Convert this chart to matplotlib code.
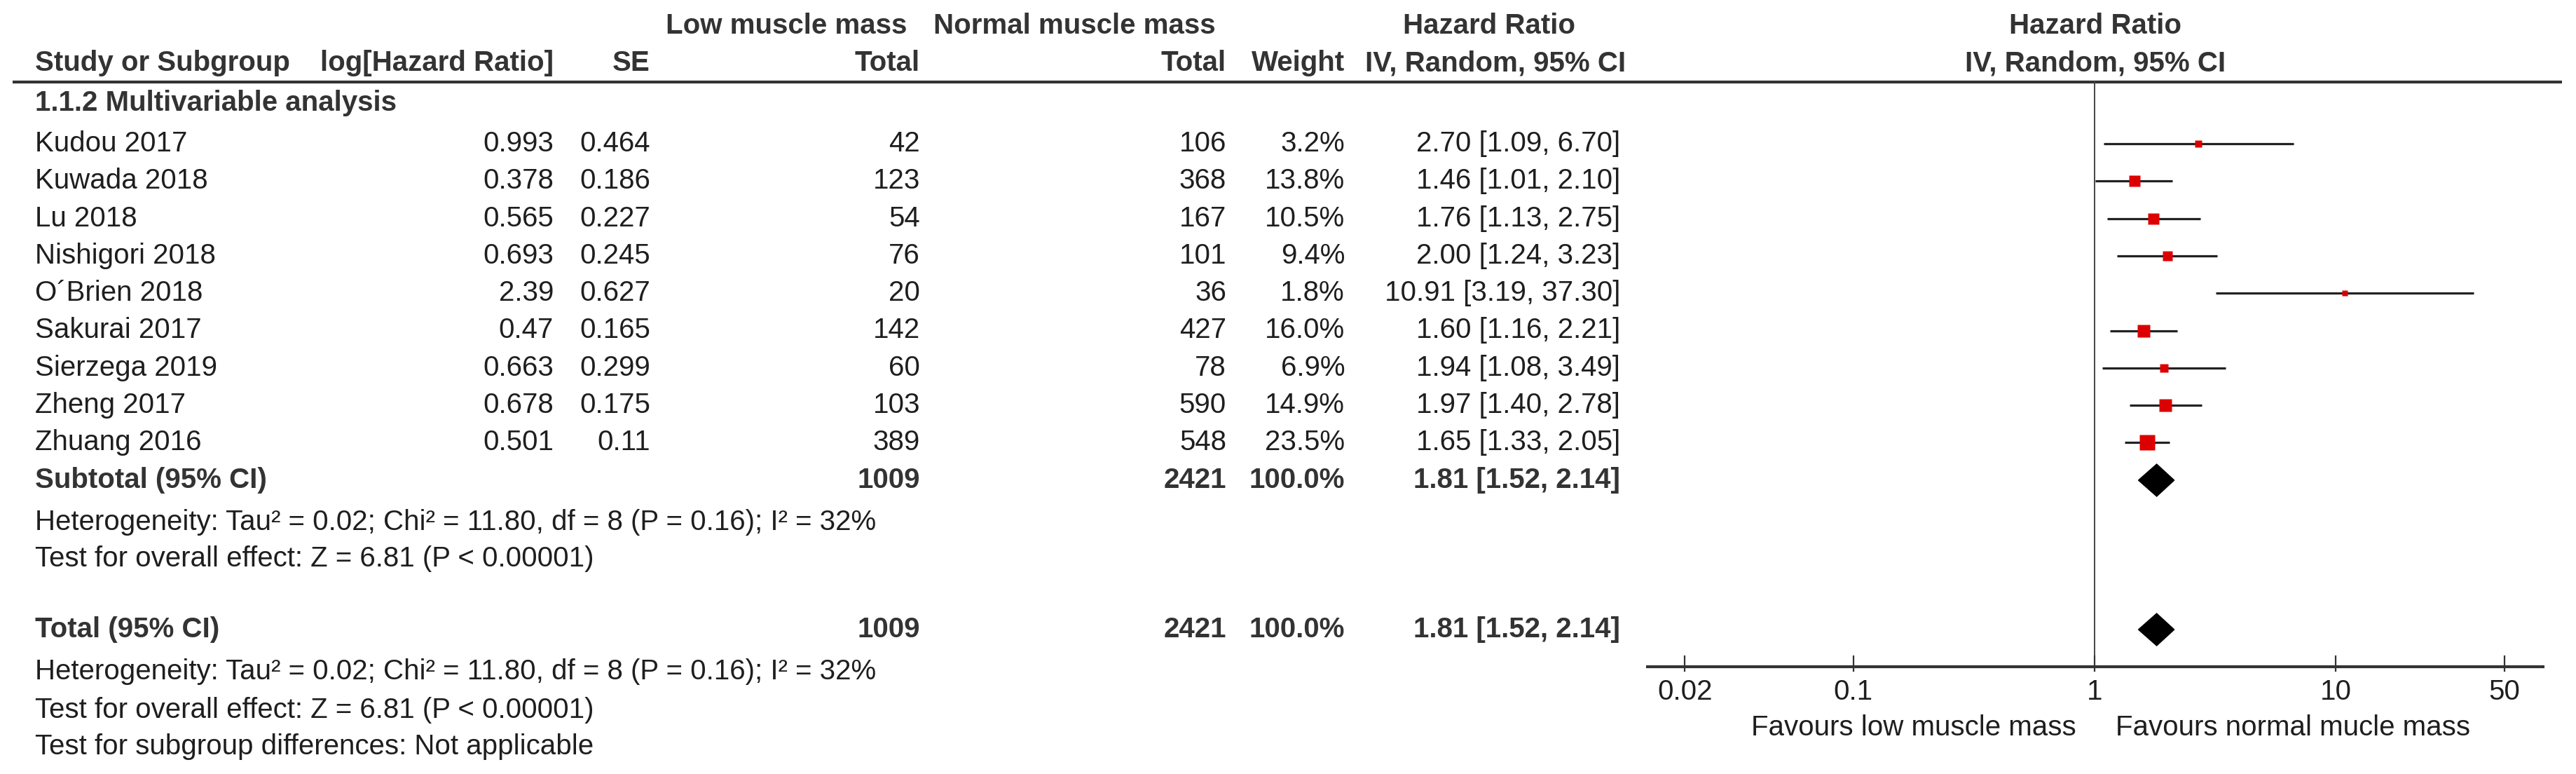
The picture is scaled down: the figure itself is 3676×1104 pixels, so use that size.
import matplotlib
matplotlib.use("Agg")
import matplotlib.pyplot as plt
import numpy as np

# data
studies = ["Kudou 2017", "Kuwada 2018", "Lu 2018", "Nishigori 2018", "O´Brien 2018",
           "Sakurai 2017", "Sierzega 2019", "Zheng 2017", "Zhuang 2016"]
log_hr = [0.993, 0.378, 0.565, 0.693, 2.39, 0.47, 0.663, 0.678, 0.501]
se = [0.464, 0.186, 0.227, 0.245, 0.627, 0.165, 0.299, 0.175, 0.11]
low_total = [42, 123, 54, 76, 20, 142, 60, 103, 389]
normal_total = [106, 368, 167, 101, 36, 427, 78, 590, 548]
weight = [3.2, 13.8, 10.5, 9.4, 1.8, 16.0, 6.9, 14.9, 23.5]
hr = [2.70, 1.46, 1.76, 2.00, 10.91, 1.60, 1.94, 1.97, 1.65]
ci_lo = [1.09, 1.01, 1.13, 1.24, 3.19, 1.16, 1.08, 1.40, 1.33]
ci_hi = [6.70, 2.10, 2.75, 3.23, 37.30, 2.21, 3.49, 2.78, 2.05]
pooled_hr, pooled_lo, pooled_hi = 1.81, 1.52, 2.14
low_sum, normal_sum = 1009, 2421
het_text = "Heterogeneity: Tau² = 0.02; Chi² = 11.80, df = 8 (P = 0.16); I² = 32%"
effect_text = "Test for overall effect: Z = 6.81 (P < 0.00001)"
subgroup_text = "Test for subgroup differences: Not applicable"
ticks = [0.02, 0.1, 1, 10, 50]
tick_labels = ["0.02", "0.1", "1", "10", "50"]

W, H = 3676, 1104
plt.rcParams['font.family'] = ['Liberation Sans', 'DejaVu Sans']
FS = 29
TXT = "#1e1e1e"
HDR = "#333333"

fig = plt.figure(figsize=(W / 100, H / 100), dpi=100)
ax = fig.add_axes([0, 0, 1, 1])
ax.set_xlim(0, W)
ax.set_ylim(H, 0)
ax.axis("off")

def t(x, y, s, ha="left", bold=False, color=None):
    ax.text(x, y, s, ha=ha, va="center", fontsize=FS,
            fontweight="bold" if bold else "normal",
            color=color or (HDR if bold else TXT))

# column anchors (pixels)
X_NAME, X_LOG, X_SE, X_LOW, X_NORM, X_W, X_CI = 50, 790, 928, 1313, 1750, 1919, 2312
X_PLOT = 2990

# headers
t(1122, 37, "Low muscle mass", "center", True)
t(1533, 37, "Normal muscle mass", "center", True)
t(2125, 37, "Hazard Ratio", "center", True)
t(X_PLOT, 37, "Hazard Ratio", "center", True)
t(X_NAME, 90, "Study or Subgroup", bold=True)
t(X_LOG, 90, "log[Hazard Ratio]", "right", True)
t(X_SE, 90, "SE", "right", True)
t(X_LOW, 90, "Total", "right", True)
t(X_NORM, 90, "Total", "right", True)
t(X_W, 90, "Weight", "right", True)
t(2134, 90, "IV, Random, 95% CI", "center", True)
t(X_PLOT, 90, "IV, Random, 95% CI", "center", True)
ax.plot([18, 3656], [117, 117], color="#333333", lw=3, solid_capstyle="butt")

t(X_NAME, 147, "1.1.2 Multivariable analysis", bold=True)

row_y = 205 + np.arange(len(studies)) * 53.3
for i, y in enumerate(row_y):
    t(X_NAME, y, studies[i])
    t(X_LOG, y, str(log_hr[i]), "right")
    t(X_SE, y, str(se[i]), "right")
    t(X_LOW, y, str(low_total[i]), "right")
    t(X_NORM, y, str(normal_total[i]), "right")
    t(X_W, y, f"{weight[i]:.1f}%", "right")
    t(X_CI, y, f"{hr[i]:.2f} [{ci_lo[i]:.2f}, {ci_hi[i]:.2f}]", "right")

y_sub, y_tot = 685, 898
for y, label in [(y_sub, "Subtotal (95% CI)"), (y_tot, "Total (95% CI)")]:
    t(X_NAME, y, label, bold=True)
    t(X_LOW, y, str(low_sum), "right", True)
    t(X_NORM, y, str(normal_sum), "right", True)
    t(X_W, y, "100.0%", "right", True)
    t(X_CI, y, f"{pooled_hr:.2f} [{pooled_lo:.2f}, {pooled_hi:.2f}]", "right", True)

t(X_NAME, 745, het_text)
t(X_NAME, 797, effect_text)
t(X_NAME, 958, het_text)
t(X_NAME, 1013, effect_text)
t(X_NAME, 1065, subgroup_text)

# forest panel
x0, x1 = 2349, 3631
lo_exp, hi_exp = -1.86, 1.866
fx = fig.add_axes([x0 / W, 0, (x1 - x0) / W, 1])
fx.set_xscale("log")
fx.set_xlim(10 ** lo_exp, 10 ** hi_exp)
fx.set_ylim(H, 0)
fx.axis("off")
fx.patch.set_alpha(0)

y_axis = 951
fx.plot([1, 1], [117, y_axis], color="#444444", lw=1.4)
fx.plot([10 ** lo_exp, 10 ** hi_exp], [y_axis, y_axis], color="#333333", lw=3,
        solid_capstyle="butt")
for tk, lab in zip(ticks, tick_labels):
    fx.plot([tk, tk], [936, 957], color="#333333", lw=1.6)
    fx.text(tk, 987, lab, ha="center", va="center", fontsize=FS, color=TXT)

for i, y in enumerate(row_y):
    fx.plot([ci_lo[i], ci_hi[i]], [y, y], color="#222222", lw=2.3, solid_capstyle="butt")
    size = np.sqrt(weight[i] / 23.5) * 14 + 1.5
    fx.plot(hr[i], y, marker="s", ms=size, color="#dd0000", mec="none")

for y in (y_sub, y_tot):
    fx.fill([pooled_lo, pooled_hr, pooled_hi, pooled_hr],
            [y, y - 23, y, y + 23], color="black")

ax.text(2963, 1038, "Favours low muscle mass", ha="right", va="center", fontsize=FS, color=TXT)
ax.text(3019, 1038, "Favours normal mucle mass", ha="left", va="center", fontsize=FS, color=TXT)

fig.savefig("out.png", dpi=100, facecolor="white")
